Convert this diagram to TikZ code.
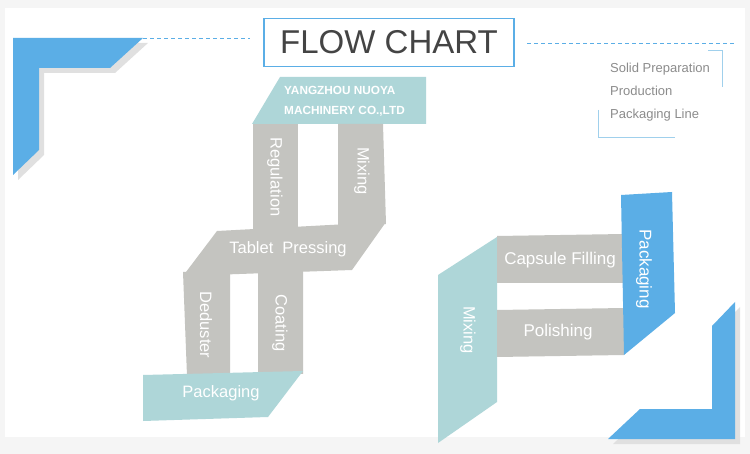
\documentclass[tikz,border=0pt]{standalone}
\usepackage{fontspec}
\setmainfont{Liberation Sans}
\usepackage{xcolor}
\usepackage{tikz}
\definecolor{nyblue}{RGB}{91,174,230}
\definecolor{nyteal}{RGB}{174,214,216}
\definecolor{nygray}{RGB}{196,196,192}
\definecolor{nyshadow}{RGB}{224,224,224}
\definecolor{nyframe}{RGB}{245,245,245}
\definecolor{nyline}{RGB}{160,208,236}

\begin{document}
\begin{tikzpicture}[x=1pt,y=-1pt,
		lbl/.style={text=white,inner sep=0pt,font=\fontsize{16.5}{18}\selectfont},
		corner/.style={fill=nyblue},
		shade/.style={fill=nyshadow,shift={(5,5)}}]
			\useasboundingbox (0,0) rectangle (750,454);
			% Nền
			\fill[nyframe] (0,0) rectangle (750,454);
			\fill[white] (5,8) rectangle (745,437);
			% Góc xanh
			\fill[shade] (13,38) -- (143,38) -- (110,68) -- (39,68) -- (39,150) -- (13,175) -- cycle;
			\fill[corner] (13,38) -- (143,38) -- (110,68) -- (39,68) -- (39,150) -- (13,175) -- cycle;
			\fill[shade] (735,302) -- (735,439) -- (608,439) -- (640,409) -- (712,409) -- (712,326) -- cycle;
			\fill[corner] (735,302) -- (735,439) -- (608,439) -- (640,409) -- (712,409) -- (712,326) -- cycle;
			\draw[nyblue,dash pattern=on 4pt off 3pt] (143,38) -- (250,38);
			\draw[nyblue,dash pattern=on 4pt off 3pt] (527,43) -- (735,43);
			% Tiêu đề
			\draw (389,42.5) node [draw=nyblue,line width=1.3pt,minimum width=250,minimum height=48,text={rgb,255:red,68;green,68;blue,68},font=\fontsize{33}{36}\selectfont] (title) {FLOW CHART};
			\draw (610,92) node [anchor=west,align=left,inner sep=0pt,text={rgb,255:red,140;green,140;blue,140},font=\fontsize{13}{23}\selectfont] (info) {Solid Preparation\\Production\\Packaging Line};
			\draw[nyline] (708,50) -- (722,50) -- (722,87);
			\draw[nyline] (598,110) -- (598,137) -- (675,137);
			% Dây chuyền trái
			\fill[nyteal] (280,77) -- (426,77) -- (426,124) -- (252,124) -- cycle;
			\draw (284,101) node [anchor=west,align=left,inner sep=0pt,text=white,font=\bfseries\fontsize{11.8}{20}\selectfont] (company) {YANGZHOU NUOYA\\MACHINERY CO.,LTD};
			\fill[nygray] (253,124) rectangle (298,234);
			\fill[nygray] (338,124) -- (383,124) -- (386,224) -- (338,228) -- cycle;
			\fill[nygray] (217,231) -- (386,222) -- (352,270) -- (183,276) -- cycle;
			\fill[nygray] (183,272) -- (230,272) -- (230,376) -- (187,376) -- cycle;
			\fill[nygray] (258,272) -- (303,270) -- (303,374) -- (258,374) -- cycle;
			\fill[nyteal] (143,375) -- (303,371) -- (268,417) -- (143,421) -- cycle;
			\draw (275,177) node [lbl,rotate=-90] (regulation) {Regulation};
			\draw (362,171) node [lbl,rotate=-90] (mixa) {Mixing};
			\draw (288,249) node [lbl] (pressing) {Tablet\hspace{0.55em}Pressing};
			\draw (206,325) node [lbl,rotate=-90] (deduster) {Deduster};
			\draw (280,323) node [lbl,rotate=-90] (coating) {Coating};
			\draw (221,393) node [lbl] (packa) {Packaging};
			% Dây chuyền phải
			\fill[nyteal] (438,275) -- (497,237) -- (497,402) -- (438,443) -- cycle;
			\fill[nygray] (497,236) -- (624,234) -- (624,283) -- (497,283) -- cycle;
			\fill[nygray] (497,310) -- (624,308) -- (624,355) -- (497,357) -- cycle;
			\fill[nyblue] (621,195) -- (672,192) -- (675,313) -- (624,355) -- cycle;
			\draw (468,330) node [lbl,rotate=-90] (mixb) {Mixing};
			\draw (560,260) node [lbl,font=\fontsize{17}{18}\selectfont] (capsule) {Capsule Filling};
			\draw (558,332) node [lbl,font=\fontsize{17}{18}\selectfont] (polishing) {Polishing};
			\draw (644,269) node [lbl,rotate=-90,font=\fontsize{17}{18}\selectfont] (packb) {Packaging};
		\end{tikzpicture}
\end{document}
